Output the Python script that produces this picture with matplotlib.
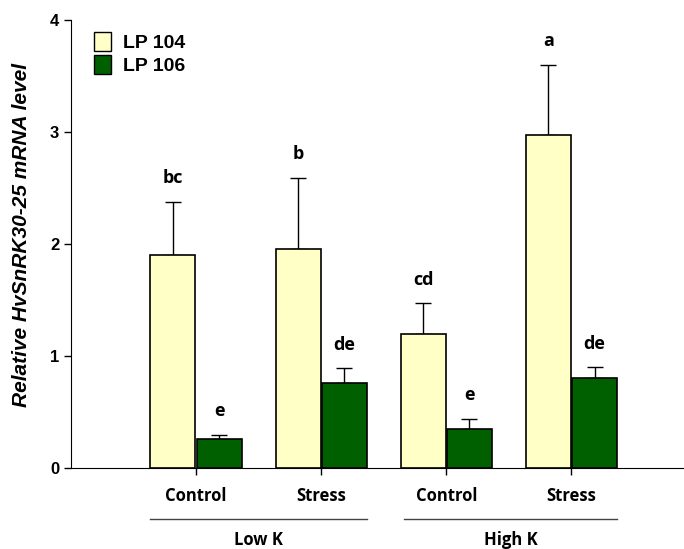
import matplotlib
matplotlib.use('Agg')
import matplotlib.pyplot as plt
import matplotlib.patches as mpatches
import numpy as np

# Relative HvSnRK30-25 expression under low / high K, control vs stress
conditions = ['Control', 'Stress', 'Control', 'Stress']
k_groups = ['Low K', 'High K']
lp104_mean = [1.90, 1.955, 1.195, 2.97]
lp104_err = [0.475, 0.635, 0.275, 0.63]
lp106_mean = [0.26, 0.76, 0.35, 0.80]
lp106_err = [0.035, 0.13, 0.09, 0.10]
lp104_letters = ['bc', 'b', 'cd', 'a']
lp106_letters = ['e', 'de', 'e', 'de']

c104 = '#FFFFC6'
c106 = '#006000'

fig = plt.figure(figsize=(6.84, 5.49), dpi=100)
ax = fig.add_axes([71 / 684, 81 / 549, 1 - 71 / 684, 448 / 549])

x = np.arange(len(conditions))
w = 0.36
off = 0.185

ax.bar(x - off, lp104_mean, w, color=c104, edgecolor='black', linewidth=1.2, zorder=2)
ax.bar(x + off, lp106_mean, w, color=c106, edgecolor='black', linewidth=1.2, zorder=2)
ax.errorbar(x - off, lp104_mean, yerr=[np.zeros(4), lp104_err], fmt='none',
            ecolor='black', elinewidth=1, capsize=6, capthick=1, zorder=1)
ax.errorbar(x + off, lp106_mean, yerr=[np.zeros(4), lp106_err], fmt='none',
            ecolor='black', elinewidth=1, capsize=6, capthick=1, zorder=1)

lbl_font = dict(family='Open Sans', fontweight='bold', fontsize=13)
for i in range(len(conditions)):
    ax.annotate(lp104_letters[i], (x[i] - off, lp104_mean[i] + lp104_err[i]),
                xytext=(0, 17), textcoords='offset points', ha='center', va='center', **lbl_font)
    ax.annotate(lp106_letters[i], (x[i] + off, lp106_mean[i] + lp106_err[i]),
                xytext=(0, 17), textcoords='offset points', ha='center', va='center', **lbl_font)

ax.set_xlim(-1.0, 3.9)
ax.set_ylim(0, 4)
ax.set_yticks([0, 1, 2, 3, 4])
ax.set_yticklabels(['0', '1', '2', '3', '4'], family='Liberation Sans', fontweight='bold', fontsize=12)
ax.set_xticks(x)
ax.set_xticklabels([])
ax.tick_params(axis='both', direction='out', length=5, width=1)
ax.spines['top'].set_visible(False)
ax.spines['right'].set_visible(False)

ax.set_ylabel('Relative HvSnRK30-25 mRNA level', family='Liberation Sans',
              fontweight='bold', fontstyle='italic', fontsize=15)
ax.yaxis.set_label_coords(-0.066, 0.521)

# condition labels and K-level brackets below the axis
for i, c in enumerate(conditions):
    ax.annotate(c, (x[i], 0), xytext=(0, -20), textcoords='offset points',
                ha='center', va='center', **dict(lbl_font, fontsize=12))
for g, name in enumerate(k_groups):
    lo = x[2 * g] - off - w / 2 + (0.03 if g else 0)
    hi = x[2 * g + 1] + off + w / 2
    ax.plot([lo, hi], [-0.455, -0.455], color='#444444', lw=1, clip_on=False)
    ax.text((lo + hi) / 2, -0.645, name, ha='center', va='center', **dict(lbl_font, fontsize=12))

handles = [mpatches.Patch(facecolor=c104, edgecolor='black', label='LP 104'),
           mpatches.Patch(facecolor=c106, edgecolor='black', label='LP 106')]
ax.legend(handles=handles, loc='upper left', bbox_to_anchor=(0.025, 0.99), frameon=False,
          prop=dict(family='Liberation Sans', weight='bold', size=14),
          handlelength=0.85, handleheight=1.1, handletextpad=0.65, labelspacing=0.15, borderaxespad=0)

fig.savefig('out.png', dpi=100)
